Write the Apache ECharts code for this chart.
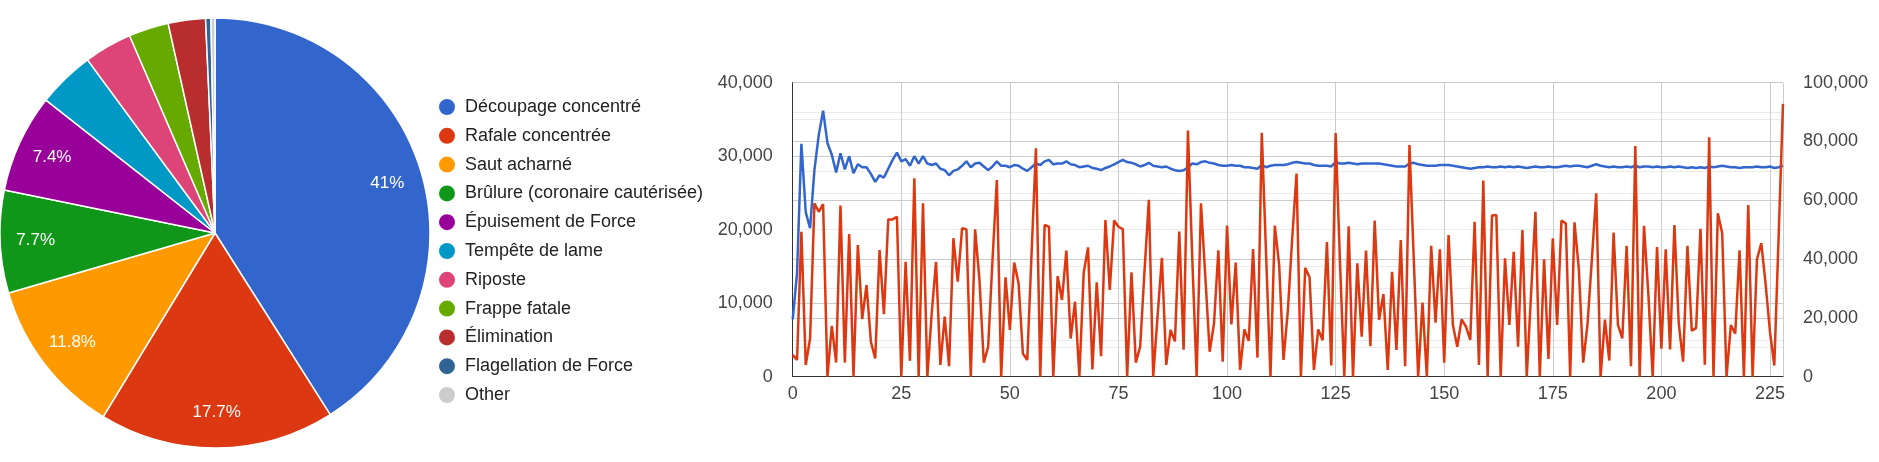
<!DOCTYPE html>
<html>
<head>
<meta charset="utf-8">
<script src="https://cdn.jsdelivr.net/npm/echarts@6/dist/echarts.min.js"></script>
<style>
html,body{margin:0;padding:0;background:#fff;}
#c{width:1879px;height:462px;}
</style>
</head>
<body>
<div id="c"></div>
<script>
// ---- Pie data ----
const pieCategories = ["Découpage concentré","Rafale concentrée","Saut acharné","Brûlure (coronaire cautérisée)","Épuisement de Force","Tempête de lame","Riposte","Frappe fatale","Élimination","Flagellation de Force","Other"];
const pieValues = [41.0,17.7,11.8,7.7,7.4,4.3,3.6,3.0,2.8,0.4,0.3];
const pieColors = ["#3366cc","#dc3912","#ff9900","#109618","#990099","#0099c6","#dd4477","#66aa00","#b82e2e","#316395","#cccccc"];

// ---- Line data (index 0..228) ----
const blueSeries = [
7800,14100,31700,22400,20200,28100,32900,36200,31800,30200,
27800,30400,28200,30000,27700,28900,28500,28500,27600,26500,
27400,27100,28300,29500,30500,29300,29600,28700,30000,29000,
30000,29000,28800,29000,28300,28100,27400,28000,28200,28700,
29300,28500,29000,29100,28600,28100,28600,29300,28700,28700,
28500,28800,28700,28300,28000,28500,29000,28800,29300,29500,
28900,29000,29000,29300,28900,28800,28500,28600,28700,28400,
28300,28100,28400,28600,28900,29200,29500,29200,29100,28900,
28600,28800,29100,28700,28600,28500,28600,28300,28100,28000,
28100,28500,29000,28900,29200,29300,29100,29000,28800,28700,
28700,28800,28700,28700,28500,28500,28400,28300,28800,28500,
28700,28800,28800,28800,28900,29100,29200,29100,29000,29000,
28800,28700,28700,28700,28600,29200,29000,29000,29100,29000,
28900,29000,29000,29000,29000,29000,28900,28800,28700,28600,
28600,28600,29000,29100,28900,28800,28700,28700,28700,28800,
28800,28800,28700,28600,28500,28400,28300,28400,28500,28500,
28600,28500,28500,28600,28500,28600,28500,28600,28500,28400,
28500,28600,28500,28500,28600,28500,28500,28600,28700,28600,
28700,28700,28600,28500,28700,28900,28700,28600,28500,28600,
28500,28500,28600,28500,28700,28500,28600,28600,28500,28600,
28500,28500,28600,28500,28600,28500,28400,28500,28400,28500,
28400,28600,28500,28600,28700,28600,28500,28500,28400,28500,
28500,28500,28600,28500,28500,28600,28400,28500,28700];
const redSeries = [
7400,5700,49300,4000,13000,59000,56100,58700,0,17300,
4800,58200,4800,48500,0,44800,19600,31200,11900,6200,
43100,21300,53500,53500,54400,0,39100,5400,67500,0,
59000,0,21500,39100,4000,20400,3600,47100,32300,50500,
50100,0,50100,32900,4800,10200,39700,66900,0,33800,
15900,38800,31800,7900,5700,42000,77700,0,51600,51000,
0,34200,26100,42900,13000,25500,0,35400,44000,2500,
32100,7000,53300,29500,53100,51000,50200,0,35500,4800,
10200,36000,60200,0,20500,40400,4000,15900,12000,49400,
9200,83700,40000,0,59000,34000,8500,18100,43000,5100,
51400,17800,38800,2300,16100,12200,43400,6500,83000,41000,
0,51400,38000,5700,22500,47000,69100,0,37000,33800,
2300,16100,12400,45800,3800,82900,39000,0,51200,0,
38600,13600,42900,10400,53100,19300,28100,2300,35700,9100,
46500,3600,78800,39700,0,25200,0,44500,18400,43300,
4800,48200,17600,10200,19500,17000,12500,52700,4000,66700,
0,54800,55000,0,40300,17600,42500,10200,49900,0,
28300,56100,0,39900,6000,47100,17600,53100,52200,0,
52500,36500,4800,18000,40000,62400,0,19400,5500,49000,
17600,13000,44500,3600,78500,0,51300,28000,0,44100,
9500,43300,9300,51600,18100,5100,44500,15600,16600,50300,
4100,81400,0,55600,48800,0,17600,14600,43000,0,
58400,0,39900,45400,31500,15300,3800,48000,92800];
const xTicks = [0,25,50,75,100,125,150,175,200,225];
const leftTicks = [0,10000,20000,30000,40000];
const rightTicks = [0,20000,40000,60000,80000,100000];

const FONT = "'Liberation Sans', Arial, sans-serif";
const fmt = v => v.toLocaleString('en-US');

const chart = echarts.init(document.getElementById('c'), null, {renderer:'canvas'});
const pieData = pieCategories.map((n,i)=>({name:n, value:pieValues[i], itemStyle:{color:pieColors[i]}}));

chart.setOption({
  animation:false,
  textStyle:{fontFamily:FONT},
  legend:{
    orient:'vertical', left:437, top:97, padding:0,
    itemWidth:22, itemHeight:18, itemGap:8.8,
    icon:'circle', selectedMode:false,
    data: pieCategories.map((n,i)=>({name:n, itemStyle:{color:pieColors[i]}})),
    textStyle:{fontSize:18, color:'#222', fontFamily:FONT, padding:[0,0,0,2]}
  },
  grid:{left:792.7, right:96, top:82.7, bottom:85.3, containLabel:false},
  xAxis:{
    type:'value', min:0, max:blueSeries.length-1, interval:25,
    axisLine:{show:true, onZero:false, lineStyle:{color:'#333', width:1}},
    axisTick:{show:false},
    axisLabel:{fontSize:18, color:'#444', margin:8, showMaxLabel:false, fontFamily:FONT,
      formatter:v=> xTicks.includes(v)? String(v):''},
    splitLine:{show:true, lineStyle:{color:'#cccccc', width:1}}
  },
  yAxis:[
    {type:'value', min:leftTicks[0], max:leftTicks[leftTicks.length-1], interval:10000, position:'left',
     axisLine:{show:true, lineStyle:{color:'#333'}}, axisTick:{show:false},
     axisLabel:{fontSize:18, color:'#444', margin:20, formatter:fmt, fontFamily:FONT},
     splitLine:{lineStyle:{color:'#cccccc'}},
     minorTick:{show:false, splitNumber:2}, minorSplitLine:{show:true, lineStyle:{color:'#ebebeb'}}},
    {type:'value', min:rightTicks[0], max:rightTicks[rightTicks.length-1], interval:20000, position:'right',
     axisLine:{show:false}, axisTick:{show:false},
     axisLabel:{fontSize:18, color:'#444', margin:20, formatter:fmt, fontFamily:FONT},
     splitLine:{lineStyle:{color:'#cccccc'}},
     minorTick:{show:false, splitNumber:2}, minorSplitLine:{show:true, lineStyle:{color:'#ebebeb'}}}
  ],
  series:[
    {type:'pie', center:[215,233], radius:[0,215], startAngle:90, clockwise:true,
     data:pieData, label:{show:false}, labelLine:{show:false},
     itemStyle:{borderColor:'#fff', borderWidth:1.5}, silent:true},
    {type:'pie', center:[215,233], radius:[138,215], startAngle:90, clockwise:true, silent:true,
     data:pieCategories.map((n,i)=>({name:n, value:pieValues[i], itemStyle:{color:'rgba(0,0,0,0)'}})),
     itemStyle:{borderWidth:0}, labelLine:{show:false},
     label:{show:true, position:'inside', color:'#fff', fontSize:17, fontFamily:FONT,
       formatter:p=> p.percent>=5 ? String(Number(p.percent.toFixed(1)))+'%' : ''}},
    {type:'line', name:'avg', yAxisIndex:0, showSymbol:false, z:3,
     data: blueSeries.map((v,i)=>[i,v]), lineStyle:{color:'#3366cc', width:2.5}, itemStyle:{color:'#3366cc'}},
    {type:'line', name:'hit', yAxisIndex:1, showSymbol:false, z:4,
     data: redSeries.map((v,i)=>[i,v]), lineStyle:{color:'#dc3912', width:2.5}, itemStyle:{color:'#dc3912'}}
  ]
});
</script>
</body>
</html>
